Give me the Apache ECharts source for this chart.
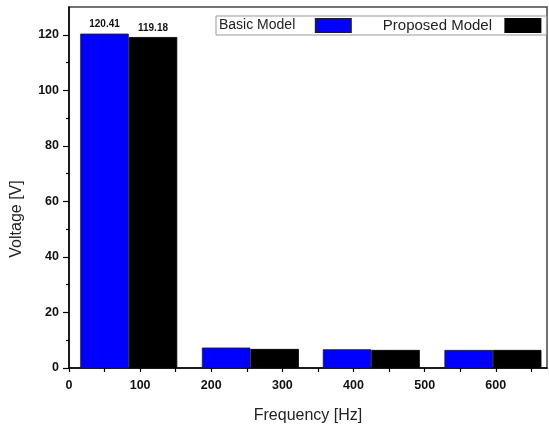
<!DOCTYPE html>
<html>
<head>
<meta charset="utf-8">
<script src="https://cdn.jsdelivr.net/npm/echarts@6/dist/echarts.min.js"></script>
<style>
html,body{margin:0;padding:0;background:#fff;}
#chart{width:549px;height:425px;}
</style>
</head>
<body>
<div id="chart"></div>
<script>
// ---- data ----
var groupFreqs = [84, 255, 425, 596];           // Hz, centre of each pair of bars
var basicValues = [120.41, 7.36, 6.75, 6.5];     // Basic Model voltage [V]
var proposedValues = [119.18, 6.86, 6.5, 6.5];   // Proposed Model voltage [V]
var seriesNames = ['Basic Model', 'Proposed Model'];
var xTickLabels = [0, 100, 200, 300, 400, 500, 600];
var xTickMarks = [0, 50, 100, 150, 200, 250, 300, 350, 400, 450, 500, 550, 600, 650];
var yTickLabels = [0, 20, 40, 60, 80, 100, 120];
var yMinorTicks = [10, 30, 50, 70, 90, 110];

function buildData(vals) {
  return vals.map(function (v, i) {
    var item = { value: [groupFreqs[i], v] };
    if (i === 0) item.label = { show: true };
    return item;
  });
}

var chart = echarts.init(document.getElementById('chart'), null, { renderer: 'canvas' });
var fontFam = 'Liberation Sans, Arial, sans-serif';
var legendText = { 'Basic Model': '{a|Basic Model    }', 'Proposed Model': '{b|Proposed Model  }' };

chart.setOption({
  animation: false,
  backgroundColor: '#ffffff',
  grid: {
    left: 69, right: 2, top: 7, bottom: 57,
    outerBoundsMode: 'none', containLabel: false,
    show: true, borderColor: '#444', borderWidth: 1.5, backgroundColor: 'transparent'
  },
  legend: {
    data: seriesNames,
    orient: 'horizontal',
    left: 216, top: 16, width: 600,
    align: 'right',
    icon: 'rect',
    itemWidth: 35, itemHeight: 13,
    itemGap: 31,
    padding: [2, 5, 2, 3],
    borderColor: '#999', borderWidth: 1,
    backgroundColor: '#fff',
    textStyle: {
      fontFamily: fontFam, fontSize: 14, color: '#222',
      rich: {
        a: { fontFamily: fontFam, fontSize: 14, color: '#222' },
        b: { fontFamily: fontFam, fontSize: 15, color: '#222' }
      }
    },
    formatter: function (n) { return legendText[n]; }
  },
  xAxis: {
    type: 'value', min: 0, max: 672, interval: 50,
    name: 'Frequency [Hz]', nameLocation: 'middle', nameGap: 40,
    nameTextStyle: { fontFamily: fontFam, fontSize: 16, color: '#222' },
    axisLine: { show: true, lineStyle: { color: '#000', width: 1.5 } },
    axisTick: { show: true, inside: false, length: 4, customValues: xTickMarks, lineStyle: { color: '#000', width: 1.2 } },
    axisLabel: { customValues: xTickLabels, fontFamily: fontFam, fontWeight: 'bold', fontSize: 12.5, color: '#111', margin: 11 },
    splitLine: { show: false }
  },
  yAxis: [{
    type: 'value', min: 0, max: 130, interval: 20,
    axisLine: { show: true, lineStyle: { color: '#000', width: 1.5 } },
    axisTick: { show: true, inside: false, length: 6, customValues: yTickLabels, lineStyle: { color: '#000', width: 1.2 } },
    axisLabel: { customValues: yTickLabels, fontFamily: fontFam, fontWeight: 'bold', fontSize: 12.5, color: '#111', margin: 10 },
    splitLine: { show: false }
  }, {
    type: 'value', min: 0, max: 130, position: 'left',
    axisLine: { show: false },
    axisTick: { show: true, inside: false, length: 3, customValues: yMinorTicks, lineStyle: { color: '#000', width: 1.2 } },
    axisLabel: { show: false },
    splitLine: { show: false }
  }],
  graphic: [{
    type: 'text', x: 17, y: 219, rotation: Math.PI / 2,
    style: { text: 'Voltage [V]', fontFamily: fontFam, fontSize: 16, fill: '#222', align: 'center', verticalAlign: 'middle' }
  }],
  series: [{
    name: seriesNames[0], type: 'bar', barWidth: 48.5, barGap: '0%',
    itemStyle: { color: '#0000ff', borderColor: '#1a1a40', borderWidth: 0.8 },
    label: { show: false, position: 'top', distance: 4, fontFamily: fontFam, fontWeight: 'bold', fontSize: 10, color: '#111',
      formatter: function (p) { return p.value[1].toFixed(2); } },
    data: buildData(basicValues)
  }, {
    name: seriesNames[1], type: 'bar', barWidth: 48.5, barGap: '0%',
    itemStyle: { color: '#000000', borderColor: '#000', borderWidth: 0.8 },
    label: { show: false, position: 'top', distance: 4, fontFamily: fontFam, fontWeight: 'bold', fontSize: 10, color: '#111',
      formatter: function (p) { return p.value[1].toFixed(2); } },
    data: buildData(proposedValues)
  }]
});
</script>
</body>
</html>
